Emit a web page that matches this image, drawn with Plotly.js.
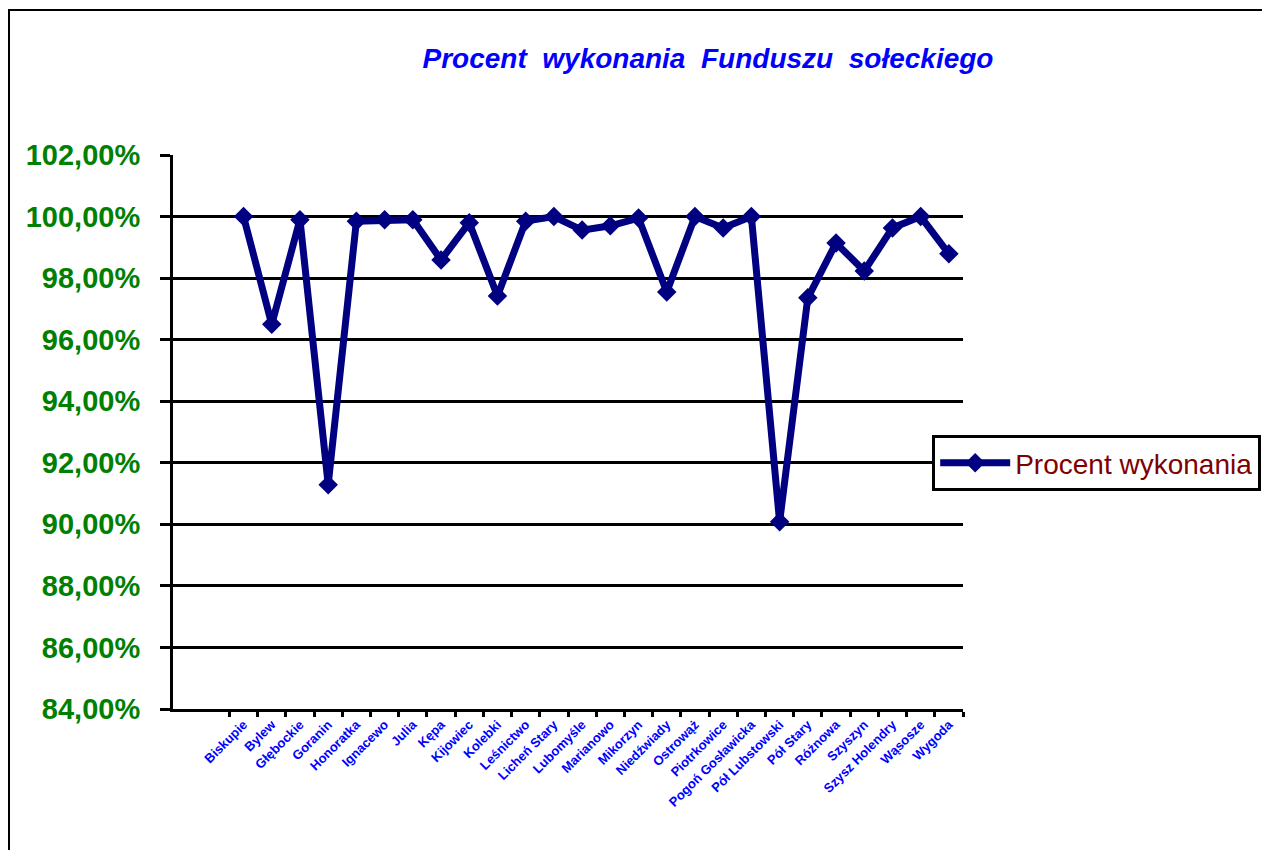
<!DOCTYPE html>
<html><head><meta charset="utf-8">
<script src="https://cdn.plot.ly/plotly-3.0.1.min.js"></script>
<style>
html,body{margin:0;padding:0;background:#fff;}
#frame{position:absolute;left:8px;top:9px;width:1300px;height:900px;border-left:2px solid #000;border-top:2px solid #000;}
#chart{position:absolute;left:0;top:0;width:1262px;height:850px;}
</style></head>
<body>
<div id="frame"></div>
<div id="chart"></div>
<script>
const categories = ["Biskupie","Bylew","Głębockie","Goranin","Honoratka","Ignacewo","Julia","Kępa","Kijowiec","Kolebki","Leśnictwo","Licheń Stary","Lubomyśle","Marianowo","Mikorzyn","Niedźwiady","Ostrowąż","Piotrkowice","Pogoń Gosławicka","Pół Lubstowski","Pół Stary","Różnowa","Szyszyn","Szysz Holendry","Wąsosze","Wygoda"];
const procentWykonania = [1.0000,0.9650,0.9990,0.9129,0.9985,0.9990,0.9990,0.9859,0.9980,0.9742,0.9985,1.0000,0.9956,0.9970,0.9995,0.9755,1.0000,0.9963,1.0000,0.9008,0.9736,0.9914,0.9823,0.9963,1.0000,0.9879];
const seriesName = "Procent wykonania";
const chartTitle = "Procent&nbsp; wykonania&nbsp; Funduszu&nbsp; sołeckiego";
const yTicks = [0.84,0.86,0.88,0.90,0.92,0.94,0.96,0.98,1.00,1.02];

const trace = {
  x: categories, y: procentWykonania, type: "scatter", mode: "lines+markers",
  name: seriesName,
  line: {color: "#000080", width: 7},
  marker: {symbol: "diamond", size: 15, color: "#000080"}
};
const layout = {
  width: 1262, height: 850,
  margin: {l: 173, r: 299, t: 155, b: 141, autoexpand: false},
  paper_bgcolor: "rgba(0,0,0,0)", plot_bgcolor: "rgba(0,0,0,0)",
  separators: ",.",
  title: {text: "<b><i>" + chartTitle + "</i></b>", x: 0.561, xanchor: "center", y: 0.932, yanchor: "middle",
    font: {family: "Liberation Sans, Arial", size: 28, color: "#0000FF"}},
  xaxis: {
    type: "category", categoryorder: "array", categoryarray: categories,
    range: [-2.5, 25.5], tickson: "boundaries", ticks: "outside", ticklen: 5, tickwidth: 3, tickcolor: "#000",
    showgrid: false, showline: true, linecolor: "#000", linewidth: 3,
    tickangle: -45, tickfont: {family: "Liberation Sans, Arial", size: 13, color: "#0000FF", weight: "bold"},
    zeroline: false, fixedrange: true, automargin: false
  },
  yaxis: {
    range: [0.84, 1.02], tickvals: yTicks, tickformat: ".2%",
    showgrid: true, gridcolor: "#000", gridwidth: 3,
    showline: true, linecolor: "#000", linewidth: 3,
    ticks: "outside", ticklen: 10, tickwidth: 3, tickcolor: "#000", ticklabelstandoff: 14,
    tickfont: {family: "Liberation Sans, Arial", size: 29, color: "#008000", weight: "bold"},
    zeroline: false, fixedrange: true, automargin: false
  },
  showlegend: true,
  legend: {x: 0.961, xanchor: "left", y: 0.444, yanchor: "middle", itemwidth: 70,
    bgcolor: "#fff", bordercolor: "#000", borderwidth: 3,
    font: {family: "Liberation Sans, Arial", size: 28, color: "#800000"}}
};
Plotly.newPlot("chart", [trace], layout, {displayModeBar: false, staticPlot: true});
</script>
</body></html>
